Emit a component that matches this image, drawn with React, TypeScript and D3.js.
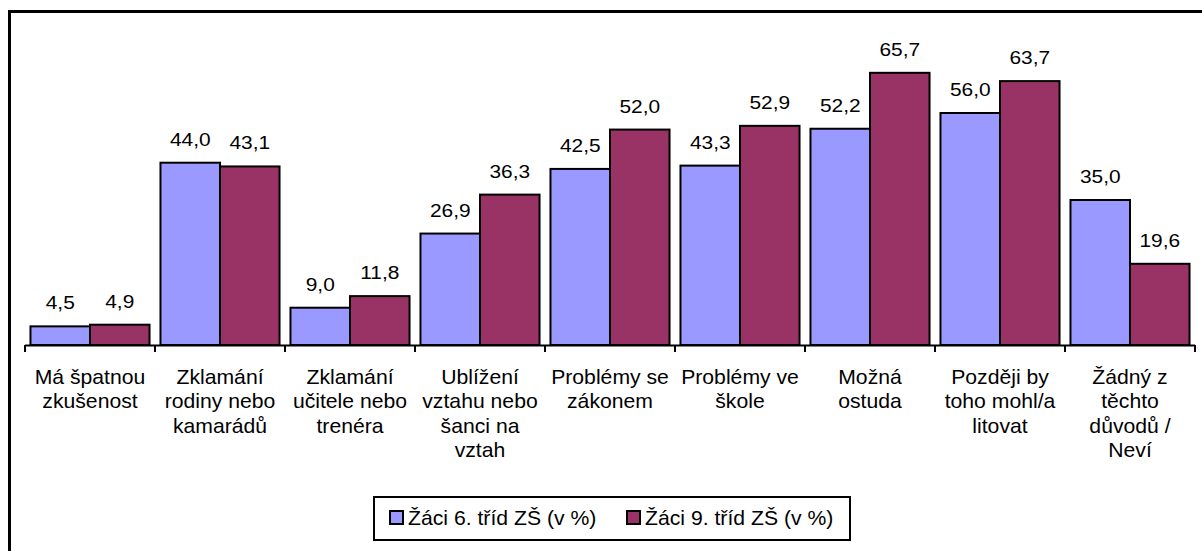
import * as d3 from "d3";
import React from "react";

const categories = [
  ["Má špatnou", "zkušenost"],
  ["Zklamání", "rodiny nebo", "kamarádů"],
  ["Zklamání", "učitele nebo", "trenéra"],
  ["Ublížení", "vztahu nebo", "šanci na", "vztah"],
  ["Problémy se", "zákonem"],
  ["Problémy ve", "škole"],
  ["Možná", "ostuda"],
  ["Později by", "toho mohl/a", "litovat"],
  ["Žádný z", "těchto", "důvodů /", "Neví"],
];

const seriesNames = ["Žáci 6. tříd ZŠ (v %)", "Žáci 9. tříd ZŠ (v %)"];
const grade6 = [4.5, 44.0, 9.0, 26.9, 42.5, 43.3, 52.2, 56.0, 35.0];
const grade9 = [4.9, 43.1, 11.8, 36.3, 52.0, 52.9, 65.7, 63.7, 19.6];
const colors = ["#9999FF", "#993366"];

const font = "'Liberation Sans', Arial, sans-serif";

export default function App() {
  const width = 1202;
  const height = 551;
  const left = 25;
  const right = 1195;
  const baseY = 345;

  const keys = categories.map((_, i) => String(i));
  const x = d3.scaleBand().domain(keys).range([left, right]);
  const x1 = d3
    .scaleBand()
    .domain(["0", "1"])
    .range([0, x.bandwidth()])
    .paddingOuter(0.092);
  const y = d3.scaleLinear().domain([0, 70]).range([baseY, 55]);

  const series = [grade6, grade9];
  const fmt = (v: number) => v.toFixed(1).replace(".", ",");

  const ticks = keys.map((k) => x(k)!).concat([right]);

  return (
    <svg
      width={width}
      height={height}
      style={{ position: "absolute", left: 0, top: 0, background: "#fff" }}
      fontFamily={font}
    >
      <rect x={9.5} y={11.5} width={1300} height={700} fill="none" stroke="#000" strokeWidth={3} />

      {series.map((vals, s) =>
        vals.map((v, i) => {
          const bx = x(keys[i])! + x1(String(s))!;
          return (
            <g key={`b${s}-${i}`}>
              <rect
                x={bx}
                y={y(v)}
                width={x1.bandwidth()}
                height={baseY - y(v)}
                fill={colors[s]}
                stroke="#000"
                strokeWidth={2}
              />
              <text
                transform={`translate(${bx + x1.bandwidth() / 2},${y(v) - 17}) scale(1.1,1)`}
                textAnchor="middle"
                fontSize={19}
                fill="#000"
              >
                {fmt(v)}
              </text>
            </g>
          );
        })
      )}

      <line x1={left} x2={right} y1={baseY + 0.5} y2={baseY + 0.5} stroke="#000" strokeWidth={2} />
      {ticks.map((t, i) => (
        <line key={`t${i}`} x1={t} x2={t} y1={baseY} y2={baseY + 7} stroke="#000" strokeWidth={2} />
      ))}

      {categories.map((lines, i) => (
        <text
          key={`c${i}`}
          transform={`translate(${x(keys[i])! + x.bandwidth() / 2},384) scale(1.06,1)`}
          textAnchor="middle"
          fontSize={20}
          fill="#000"
        >
          {lines.map((l, j) => (
            <tspan key={j} x={0} y={j * 24.5}>
              {l}
            </tspan>
          ))}
        </text>
      ))}

      <rect x={374} y={497} width={476} height={43} fill="#fff" stroke="#000" strokeWidth={2} />
      {seriesNames.map((name, s) => {
        const lx = s === 0 ? 390 : 627;
        return (
          <g key={`l${s}`}>
            <rect x={lx} y={511} width={13} height={13} fill={colors[s]} stroke="#000" strokeWidth={2} />
            <text
              transform={`translate(${lx + 18},525) scale(1.06,1)`}
              fontSize={20}
              fill="#000"
            >
              {name}
            </text>
          </g>
        );
      })}
    </svg>
  );
}
